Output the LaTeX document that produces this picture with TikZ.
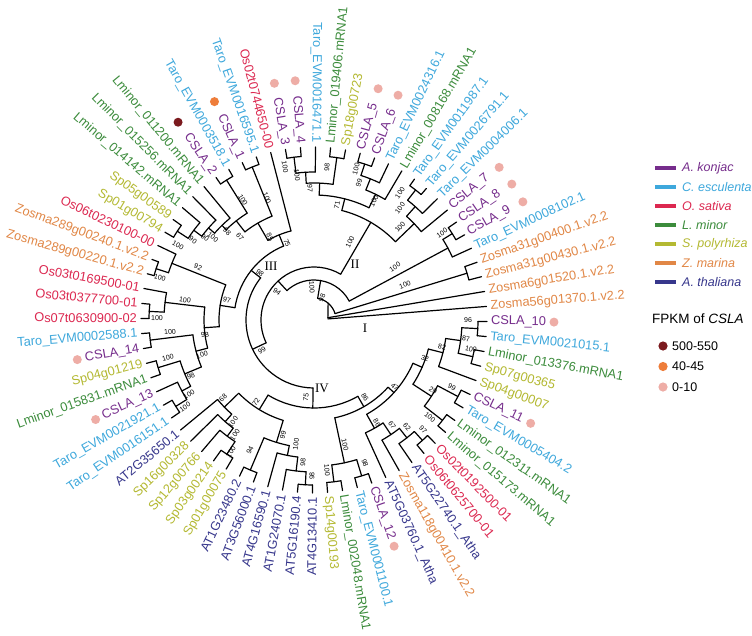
\documentclass[tikz,border=0pt]{standalone}
\usepackage{fontspec}
\setmainfont{Liberation Sans}
\newfontfamily\clfont{Liberation Serif}
\definecolor{cAK}{HTML}{762D8C}
\definecolor{cTA}{HTML}{3EA8DC}
\definecolor{cOS}{HTML}{DC2850}
\definecolor{cLM}{HTML}{3C8C3C}
\definecolor{cSP}{HTML}{B4B932}
\definecolor{cZM}{HTML}{E18746}
\definecolor{cAT}{HTML}{37378C}
\definecolor{cDR}{HTML}{7B1A1E}
\definecolor{cDO}{HTML}{EE7D3A}
\definecolor{cDP}{HTML}{EEADA6}
\tikzset{
 br/.style={line width=1.2pt, line cap=round, line join=round},
 leaf/.style={font=\fontsize{12.8}{14}\selectfont, inner sep=0pt},
 bsl/.style={font=\fontsize{7}{8}\selectfont, inner sep=0pt},
 clnum/.style={font=\clfont\fontsize{13}{15}\selectfont, inner sep=0pt},
 legt/.style={font=\fontsize{12.5}{14}\selectfont, anchor=west, inner sep=0pt},
}
\newcommand\nd[4]{%
 \pgfmathsetmacro\mm{(#1+#2)/2}%
 \draw[br] (#1:#3pt) arc[start angle=#1, end angle=#2, radius=#3pt];%
 \draw[br] (\mm:#4pt) -- (\mm:#3pt);}
\newcommand\lf[5]{%
 \pgfmathsetmacro\la{5*#1-90.5}%
 \draw[br] (\la:#2pt) -- (\la:173pt);%
 \ifnum#1<36\relax
   \node[leaf,text=#4,anchor=west,rotate=\la] (L#1) at (\la:177pt) {#3};%
 \else
   \pgfmathsetmacro\lb{\la+180}%
   \node[leaf,text=#4,anchor=east,rotate=\lb] (L#1) at (\la:177pt) {#3};%
 \fi
 \ifx\relax#5\relax\else\fill[#5] (\la:240pt) circle[radius=4.5pt];\fi}
\newcommand\bs[3]{%
 \pgfmathsetmacro\bsang{atan2(320-#2,#1-314)}%
 \pgfmathsetmacro\bsrot{(\bsang>87 || \bsang<-90.5) ? \bsang+180 : \bsang}%
 \node[bsl,rotate=\bsrot] at (#1,-#2) {#3};}
\begin{document}
\begin{tikzpicture}[x=1pt,y=1pt]
\useasboundingbox (0,0) rectangle (752,-635);
\fill[white] (0,0) rectangle (752,-635);
\begin{scope}[shift={(314,-320)}]
% root and clade I
\coordinate (R0) at (8:14pt);
\draw[br] (R0) -- (50:22pt);
\draw[br] (17:22pt) arc[start angle=17, end angle=80.445, radius=22pt];
\nd{14.5}{19.5}{160}{22}
% G group (Taro_8102, CSLA_9, CSLA_8)
\nd{29.5}{34.5}{163}{152}
\nd{24.5}{32}{152}{40}
% deep nodes
\nd{28.25}{132.64}{40}{22}
\nd{59.81}{205.48}{53}{40}
\nd{141.71}{269.23}{68}{53}
% clade II
\nd{49.5}{54.5}{165}{152}
\nd{44.5}{52}{152}{139}
\nd{39.5}{48.25}{139}{113}
\nd{69.5}{74.5}{164}{152}
\nd{64.5}{72}{152}{140}
\nd{59.5}{68.25}{140}{125}
\nd{94.5}{99.5}{164}{148}
\nd{89.5}{97}{148}{137}
\nd{79.5}{84.5}{164}{137}
\nd{82}{93.25}{137}{125}
\nd{63.875}{87.625}{125}{113}
\nd{43.875}{75.75}{113}{53}
% clade III
\nd{144.5}{149.5}{163}{150}
\nd{139.5}{147}{150}{140}
\nd{134.5}{143.25}{140}{132}
\nd{129.5}{138.875}{132}{126}
\nd{119.5}{124.5}{165}{126}
\nd{122}{134.1875}{126}{112}
\nd{109.5}{114.5}{165}{112}
\nd{112}{128.09375}{112}{92}
\nd{104.5}{120.046875}{92}{80}
\nd{159.5}{164.5}{166}{153}
\nd{154.5}{162}{153}{95}
\nd{174.5}{179.5}{165}{150}
\nd{169.5}{177}{150}{110}
\nd{184.5}{189.5}{165}{122}
\nd{194.5}{199.5}{163}{140}
\nd{209.5}{214.5}{163}{150}
\nd{204.5}{212}{150}{140}
\nd{197}{208.25}{140}{122}
\nd{187}{202.625}{122}{110}
\nd{173.25}{194.8125}{110}{95}
\nd{158.25}{184.03}{95}{80}
\nd{112.27}{171.14}{80}{68}
% clade IV
\nd{234.5}{239.5}{160}{145}
\nd{229.5}{237}{145}{135}
\nd{224.5}{233.25}{135}{125}
\nd{219.5}{228.875}{125}{105}
\nd{244.5}{249.5}{163}{128}
\nd{264.5}{269.5}{165}{152}
\nd{259.5}{267}{152}{138}
\nd{254.5}{263.25}{138}{128}
\nd{247}{258.875}{128}{105}
\nd{224.1875}{252.9375}{105}{88}
\nd{-85.5}{-80.5}{163}{146}
\nd{-75.5}{-70.5}{163}{146}
\nd{-83}{-73}{146}{100}
\nd{-50.5}{-45.5}{162}{150}
\nd{-55.5}{-48}{150}{138}
\nd{-60.5}{-51.75}{138}{124}
\nd{-65.5}{-56.125}{124}{108}
\nd{-40.5}{-35.5}{163}{140}
\nd{-30.5}{-25.5}{163}{140}
\nd{-38}{-28}{140}{118}
\nd{-5.5}{-0.5}{164}{148}
\nd{-15.5}{-10.5}{163}{148}
\nd{-13}{-3}{148}{133}
\nd{-20.5}{-8}{133}{118}
\nd{-33}{-14.25}{118}{108}
\nd{-60.8125}{-23.625}{108}{100}
\nd{-78}{-42.21875}{100}{88}
\nd{238.5625}{299.89}{88}{68}
% leaves
\lf{1}{163}{Sp14g00193}{cSP}{}
\lf{2}{163}{Lminor\_002048.mRNA1}{cLM}{}
\lf{3}{163}{Taro\_EVM0001100.1}{cTA}{}
\lf{4}{163}{CSLA\_12}{cAK}{cDP}
\lf{5}{124}{AT5G03760.1\_Atha}{cAT}{}
\lf{6}{138}{Zosma118g00410.1.v2.2}{cZM}{}
\lf{7}{150}{AT5G22740.1\_Atha}{cAT}{}
\lf{8}{162}{Os06t0625700-01}{cOS}{}
\lf{9}{162}{Os02t0192500-01}{cOS}{}
\lf{10}{163}{Lminor\_015173.mRNA1}{cLM}{}
\lf{11}{163}{Lminor\_012311.mRNA1}{cLM}{}
\lf{12}{163}{Taro\_EVM0005404.2}{cTA}{}
\lf{13}{163}{CSLA\_11}{cAK}{cDP}
\lf{14}{133}{Sp04g00007}{cSP}{}
\lf{15}{163}{Sp07g00365}{cSP}{}
\lf{16}{163}{Lminor\_013376.mRNA1}{cLM}{}
\lf{17}{164}{Taro\_EVM0021015.1}{cTA}{}
\lf{18}{164}{CSLA\_10}{cAK}{cDP}
\lf{19}{14}{Zosma56g01370.1.v2.2}{cZM}{}
\lf{20}{14}{Zosma6g01520.1.v2.2}{cZM}{}
\lf{21}{160}{Zosma31g00430.1.v2.2}{cZM}{}
\lf{22}{160}{Zosma31g00400.1.v2.2}{cZM}{}
\lf{23}{152}{Taro\_EVM0008102.1}{cTA}{}
\lf{24}{163}{CSLA\_9}{cAK}{cDP}
\lf{25}{163}{CSLA\_8}{cAK}{cDP}
\lf{26}{139}{CSLA\_7}{cAK}{cDP}
\lf{27}{152}{Taro\_EVM0004006.1}{cTA}{}
\lf{28}{165}{Taro\_EVM0026791.1}{cTA}{}
\lf{29}{165}{Taro\_EVM0011987.1}{cTA}{}
\lf{30}{140}{Lminor\_008168.mRNA1}{cLM}{}
\lf{31}{152}{Taro\_EVM0024316.1}{cTA}{}
\lf{32}{164}{CSLA\_6}{cAK}{cDP}
\lf{33}{164}{CSLA\_5}{cAK}{cDP}
\lf{34}{164}{Sp18g00723}{cSP}{}
\lf{35}{164}{Lminor\_019406.mRNA1}{cLM}{}
\lf{36}{148}{Taro\_EVM0016471.1}{cTA}{}
\lf{37}{164}{CSLA\_4}{cAK}{cDP}
\lf{38}{164}{CSLA\_3}{cAK}{cDP}
\lf{39}{92}{Os02t0744650-00}{cOS}{}
\lf{40}{165}{Taro\_EVM0016595.1}{cTA}{}
\lf{41}{165}{CSLA\_1}{cAK}{cDO}
\lf{42}{165}{Taro\_EVM0003518.1}{cTA}{}
\lf{43}{165}{CSLA\_2}{cAK}{cDR}
\lf{44}{132}{Lminor\_011200.mRNA1}{cLM}{}
\lf{45}{140}{Lminor\_015256.mRNA1}{cLM}{}
\lf{46}{150}{Lminor\_014142.mRNA1}{cLM}{}
\lf{47}{163}{Sp05g00589}{cSP}{}
\lf{48}{163}{Sp01g00794}{cSP}{}
\lf{49}{153}{Os06t0230100-00}{cOS}{}
\lf{50}{166}{Zosma289g00240.1.v2.2}{cZM}{}
\lf{51}{166}{Zosma289g00220.1.v2.2}{cZM}{}
\lf{52}{150}{Os03t0169500-01}{cOS}{}
\lf{53}{165}{Os03t0377700-01}{cOS}{}
\lf{54}{165}{Os07t0630900-02}{cOS}{}
\lf{55}{165}{Taro\_EVM0002588.1}{cTA}{}
\lf{56}{165}{CSLA\_14}{cAK}{cDP}
\lf{57}{163}{Sp04g01219}{cSP}{}
\lf{58}{163}{Lminor\_015831.mRNA1}{cLM}{}
\lf{59}{150}{CSLA\_13}{cAK}{cDP}
\lf{60}{163}{Taro\_EVM0021921.1}{cTA}{}
\lf{61}{163}{Taro\_EVM0016151.1}{cTA}{}
\lf{62}{125}{AT2G35650.1}{cAT}{}
\lf{63}{135}{Sp16g00328}{cSP}{}
\lf{64}{145}{Sp12g00766}{cSP}{}
\lf{65}{160}{Sp03g00214}{cSP}{}
\lf{66}{160}{Sp01g00075}{cSP}{}
\lf{67}{163}{AT1G23480.2}{cAT}{}
\lf{68}{163}{AT3G56000.1}{cAT}{}
\lf{69}{138}{AT4G16590.1}{cAT}{}
\lf{70}{152}{AT1G24070.1}{cAT}{}
\lf{71}{165}{AT5G16190.4}{cAT}{}
\lf{72}{165}{AT4G13410.1}{cAT}{}
\end{scope}
% bootstrap values
\bs{285}{167}{100}\bs{297}{175}{100}\bs{310}{188}{97}\bs{327}{167}{98}
\bs{337}{205}{71}\bs{356}{169}{100}\bs{359}{183}{99}\bs{374}{201}{100}
\bs{400}{193}{100}\bs{400}{208}{100}\bs{400}{227}{100}\bs{442}{233}{100}
\bs{350}{242}{100}\bs{395}{267}{100}\bs{405}{285}{100}\bs{312}{287}{100}
\bs{322}{298}{98}\bs{277}{292}{94}
\bs{287}{243}{75}\bs{270}{237}{85}\bs{240}{237}{67}\bs{227}{232}{98}
\bs{213}{237}{100}\bs{205}{238}{90}\bs{193}{240}{90}\bs{178}{245}{100}
\bs{243}{200}{100}\bs{267}{198}{100}\bs{198}{267}{92}\bs{160}{278}{100}
\bs{260}{273}{98}\bs{227}{300}{97}\bs{185}{300}{100}\bs{157}{318}{100}
\bs{170}{332}{100}\bs{168}{358}{100}\bs{205}{335}{98}\bs{202}{355}{100}
\bs{191}{376}{98}\bs{189}{394}{100}\bs{185}{407}{100}\bs{262}{350}{99}
\bs{306}{397}{75}\bs{256}{402}{72}\bs{223}{398}{68}\bs{233}{422}{100}
\bs{235}{435}{100}\bs{231}{452}{100}\bs{250}{450}{94}\bs{283}{435}{99}
\bs{296}{444}{100}\bs{303}{462}{98}\bs{312}{476}{98}\bs{365}{397}{86}
\bs{327}{470}{100}\bs{365}{463}{98}\bs{345}{445}{100}\bs{377}{423}{86}
\bs{392}{425}{67}\bs{407}{427}{62}\bs{423}{430}{97}\bs{395}{387}{47}
\bs{425}{358}{32}\bs{442}{347}{82}\bs{466}{339}{87}\bs{468}{320}{96}
\bs{471}{349}{100}\bs{433}{390}{29}\bs{452}{387}{99}\bs{430}{417}{100}
% clade numerals
\node[clnum] (cI) at (365,-328) {I};
\node[clnum] (cII) at (355,-264) {II};
\node[clnum] (cIII) at (271,-266) {III};
\node[clnum] (cIV) at (322,-388) {IV};
% legend
\foreach \c/\t [count=\k from 0] in {cAK/A. konjac, cTA/C. esculenta, cOS/O. sativa, cLM/L. minor, cSP/S. polyrhiza, cZM/Z. marina, cAT/A. thaliana}{
  \draw[\c, line width=4pt] (655,-168-19*\k) -- (676,-168-19*\k);
  \node[legt, text=\c] (sp\k) at (682,-168-19*\k) {\itshape\t};
}
\node[font=\fontsize{13.5}{15}\selectfont, anchor=west, inner sep=0pt] (fpkm) at (652,-319) {FPKM of \textit{CSLA}};
\foreach \c/\t [count=\k from 0] in {cDR/500-550, cDO/40-45, cDP/0-10}{
  \fill[\c] (663,-346-20.5*\k) circle[radius=4.6pt];
  \node[legt] (fp\k) at (672,-346-20.5*\k) {\t};
}
\end{tikzpicture}
\end{document}
